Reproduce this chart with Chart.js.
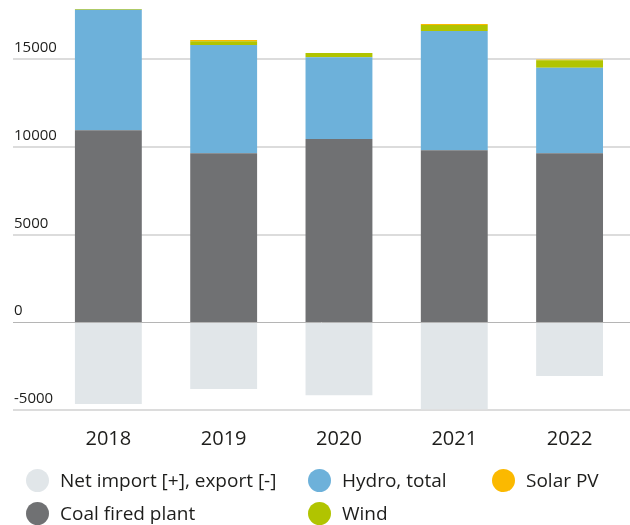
<!DOCTYPE html>
<html>
<head>
<meta charset="utf-8">
<script src="https://cdn.jsdelivr.net/npm/chart.js@4/dist/chart.umd.min.js"></script>
<style>
  html, body { margin: 0; padding: 0; background: #fff; }
  body { width: 630px; height: 525px; overflow: hidden; font-family: 'Open Sans', sans-serif; }
  #wrap { position: relative; width: 630px; height: 460px; }
  #legend { position: absolute; left: 0; top: 0; width: 630px; height: 525px; pointer-events: none; }
  .item { position: absolute; display: flex; align-items: center; height: 26px; font-size: 19px; color: #1d1d1b; white-space: nowrap; }
  .dot { width: 23px; height: 23px; border-radius: 50%; margin-right: 11px; flex: none; }
</style>
</head>
<body>
<div id="wrap"><canvas id="chart" width="630" height="460"></canvas></div>
<div id="legend"></div>
<script>
/* ---------- data ---------- */
const years     = [2018, 2019, 2020, 2021, 2022];
const netImport = [-4640, -3790, -4140, -4940, -3040];
const coal      = [10960, 9650, 10450, 9820, 9650];
const hydro     = [6860, 6160, 4670, 6790, 4870];
const wind      = [40, 210, 230, 340, 420];
const solar     = [0, 70, 0, 60, 40];
const yTicks    = [-5000, 0, 5000, 10000, 15000];

const TEXT = '#1d1d1b';

/* ---------- chart ---------- */
const chart = new Chart(document.getElementById('chart'), {
  type: 'bar',
  data: {
    labels: years,
    datasets: [
      { label: 'Net import [+], export [-]', data: netImport, backgroundColor: '#e1e6e9' },
      { label: 'Coal fired plant',           data: coal,      backgroundColor: '#707173' },
      { label: 'Hydro, total',               data: hydro,     backgroundColor: '#6db1da' },
      { label: 'Wind',                       data: wind,      backgroundColor: '#b1c400' },
      { label: 'Solar PV',                   data: solar,     backgroundColor: '#fbb900' },
    ],
  },
  options: {
    responsive: false,
    animation: false,
    devicePixelRatio: 1,
    layout: { padding: { top: 6.6, left: 11, right: 0, bottom: 9.7 } },
    datasets: { bar: { categoryPercentage: 1, barPercentage: 0.58, borderWidth: 0 } },
    plugins: { legend: { display: false }, tooltip: { enabled: false } },
    scales: {
      x: {
        type: 'linear',
        stacked: true,
        min: 2017.173,
        max: 2022.524,
        offset: false,
        grid: { display: false, drawTicks: false },
        border: { display: false },
        afterBuildTicks: s => { s.ticks = years.map(v => ({ value: v })); },
        afterFit: s => { s.height = 40; },
        ticks: {
          autoSkip: false, maxRotation: 0, padding: 17,
          color: TEXT, font: { family: 'Open Sans', size: 20 },
          callback: v => String(v),
        },
      },
      y: {
        stacked: true,
        min: -5000,
        max: 18000,
        border: { display: false },
        afterBuildTicks: s => { s.ticks = yTicks.map(v => ({ value: v })); },
        afterFit: s => { s.paddingTop = 0; s.paddingBottom = 0; },
        grid: {
          drawTicks: false,
          color: c => c.tick && c.tick.value === 0 ? '#b5b5b5' : '#dcdcdc',
          lineWidth: c => c.tick && c.tick.value === 0 ? 1 : 2,
        },
        ticks: {
          mirror: true, padding: 1, labelOffset: -11.5,
          color: TEXT, font: { family: 'Open Sans', size: 15 },
          callback: v => String(v),
        },
      },
    },
  },
});

/* ---------- html legend (2 rows, 3 columns) ---------- */
const colX = [26, 308, 492];
const rowY = [480, 513];
const slots = [[0, 0], [0, 1], [1, 0], [1, 1], [2, 0]];   // column, row per dataset
const legend = document.getElementById('legend');
chart.data.datasets.forEach((ds, i) => {
  const [c, r] = slots[i];
  const item = document.createElement('div');
  item.className = 'item';
  item.style.left = colX[c] + 'px';
  item.style.top = (rowY[r] - 13) + 'px';
  const dot = document.createElement('span');
  dot.className = 'dot';
  dot.style.background = ds.backgroundColor;
  item.appendChild(dot);
  item.appendChild(document.createTextNode(ds.label));
  legend.appendChild(item);
});
</script>
</body>
</html>
